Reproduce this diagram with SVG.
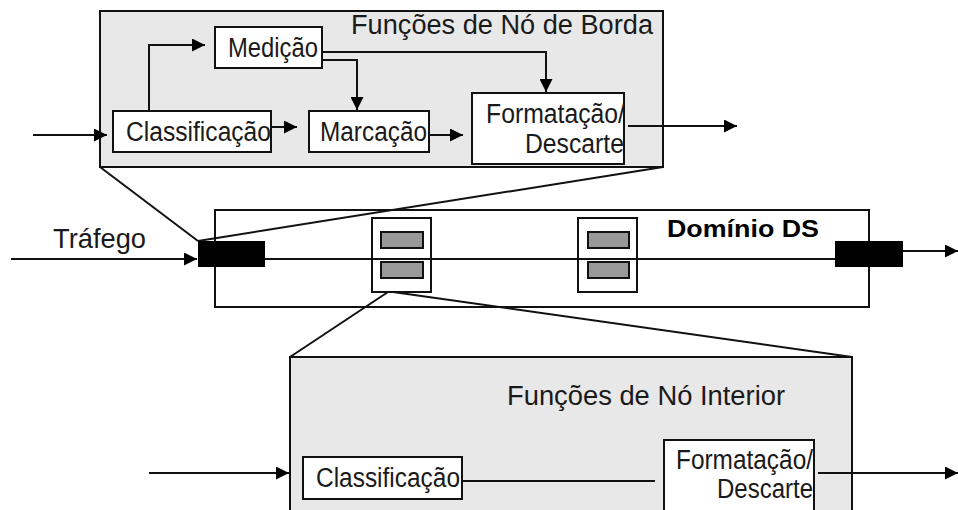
<svg xmlns="http://www.w3.org/2000/svg" width="958" height="510" viewBox="0 0 958 510">
<defs>
<style>
.panel{fill:#e8e8e8;stroke:#111;stroke-width:2}
.box{fill:#fff;stroke:#111;stroke-width:2}
.dom{fill:#fff;stroke:#111;stroke-width:2}
.node{fill:none;stroke:#111;stroke-width:2}
.q{fill:#999;stroke:#111;stroke-width:2}
.blk{fill:#000}
.ln{fill:none;stroke:#111;stroke-width:2}
.t{font-family:"Liberation Sans",Arial,sans-serif;font-size:27px;fill:#1a1a1a}
.b{font-family:"Liberation Sans",Arial,sans-serif;font-size:24px;font-weight:bold;fill:#000}
</style>
<marker id="ah" viewBox="0 0 10 10" refX="10" refY="5" markerWidth="7" markerHeight="6.5" orient="auto" markerUnits="strokeWidth">
<path d="M0,0 L10,5 L0,10 z" fill="#000"/>
</marker>
</defs>

<g id="edge-panel">
<rect class="panel" x="100" y="11" width="563" height="156"/>
<text class="t" x="351" y="34" textLength="302" lengthAdjust="spacingAndGlyphs">Funções de Nó de Borda</text>
</g>

<g id="domain">
<rect class="dom" x="215" y="210" width="654" height="97"/>
<text class="b" x="667" y="237" textLength="152" lengthAdjust="spacingAndGlyphs">Domínio DS</text>
</g>

<g id="interior-panel">
<rect class="panel" x="290" y="357" width="562" height="170"/>
<text class="t" x="507" y="405" textLength="278" lengthAdjust="spacingAndGlyphs">Funções de Nó Interior</text>
</g>

<g id="connectors">
<path class="ln" d="M100,167 L198,241"/>
<path class="ln" d="M663,167 L198,241"/>
<path class="ln" d="M388,292 L290,357"/>
<path class="ln" d="M393,292 L852,357"/>
<path class="ln" d="M11,259 L197,259" marker-end="url(#ah)"/>
<path class="ln" d="M265,259 L835,259"/>
<path class="ln" d="M903,251 L958,251" marker-end="url(#ah)"/>
<path class="ln" d="M33,135 L107,135" marker-end="url(#ah)"/>
<path class="ln" d="M149,111 L149,45 L205,45" marker-end="url(#ah)"/>
<path class="ln" d="M271,127 L297,127" marker-end="url(#ah)"/>
<path class="ln" d="M322,60 L357,60 L357,110" marker-end="url(#ah)"/>
<path class="ln" d="M322,52 L546,52 L546,92" marker-end="url(#ah)"/>
<path class="ln" d="M429,135 L463,135" marker-end="url(#ah)"/>
<path class="ln" d="M628,126 L737,126" marker-end="url(#ah)"/>
<path class="ln" d="M149,473 L289,473" marker-end="url(#ah)"/>
<path class="ln" d="M462,481 L655,481"/>
<path class="ln" d="M818,473 L958,473" marker-end="url(#ah)"/>
</g>

<g id="ingress">
<rect class="blk" x="198" y="241" width="67" height="26"/>
</g>
<g id="egress">
<rect class="blk" x="835" y="241" width="68" height="26"/>
</g>

<g id="core1">
<rect class="node" x="372" y="218" width="59" height="74"/>
<rect class="q" x="381" y="232" width="42" height="16"/>
<rect class="q" x="381" y="262" width="42" height="16"/>
</g>
<g id="core2">
<rect class="node" x="578" y="218" width="59" height="74"/>
<rect class="q" x="588" y="232" width="41" height="16"/>
<rect class="q" x="588" y="262" width="41" height="16"/>
</g>

<g id="medicao">
<rect class="box" x="215" y="27" width="107" height="41"/>
<text class="t" x="228" y="57" textLength="90" lengthAdjust="spacingAndGlyphs">Medição</text>
</g>
<g id="classificacao-borda">
<rect class="box" x="113" y="111" width="158" height="41"/>
<text class="t" x="126" y="141" textLength="145" lengthAdjust="spacingAndGlyphs">Classificação</text>
</g>
<g id="marcacao">
<rect class="box" x="309" y="111" width="120" height="41"/>
<text class="t" x="320" y="141" textLength="107" lengthAdjust="spacingAndGlyphs">Marcação</text>
</g>
<g id="formatacao-borda">
<rect class="box" x="472" y="93" width="152" height="71"/>
<text class="t" x="486" y="123" textLength="139" lengthAdjust="spacingAndGlyphs">Formatação/</text>
<text class="t" x="525" y="153" textLength="99" lengthAdjust="spacingAndGlyphs">Descarte</text>
</g>

<g id="classificacao-interior">
<rect class="box" x="303" y="457" width="159" height="42"/>
<text class="t" x="316" y="487" textLength="144" lengthAdjust="spacingAndGlyphs">Classificação</text>
</g>
<g id="formatacao-interior">
<rect class="box" x="664" y="440" width="150" height="90"/>
<text class="t" x="676" y="469" textLength="137" lengthAdjust="spacingAndGlyphs">Formatação/</text>
<text class="t" x="717" y="498" textLength="96" lengthAdjust="spacingAndGlyphs">Descarte</text>
</g>
<text class="t" x="53" y="248" textLength="93" lengthAdjust="spacingAndGlyphs">Tráfego</text>
</svg>
